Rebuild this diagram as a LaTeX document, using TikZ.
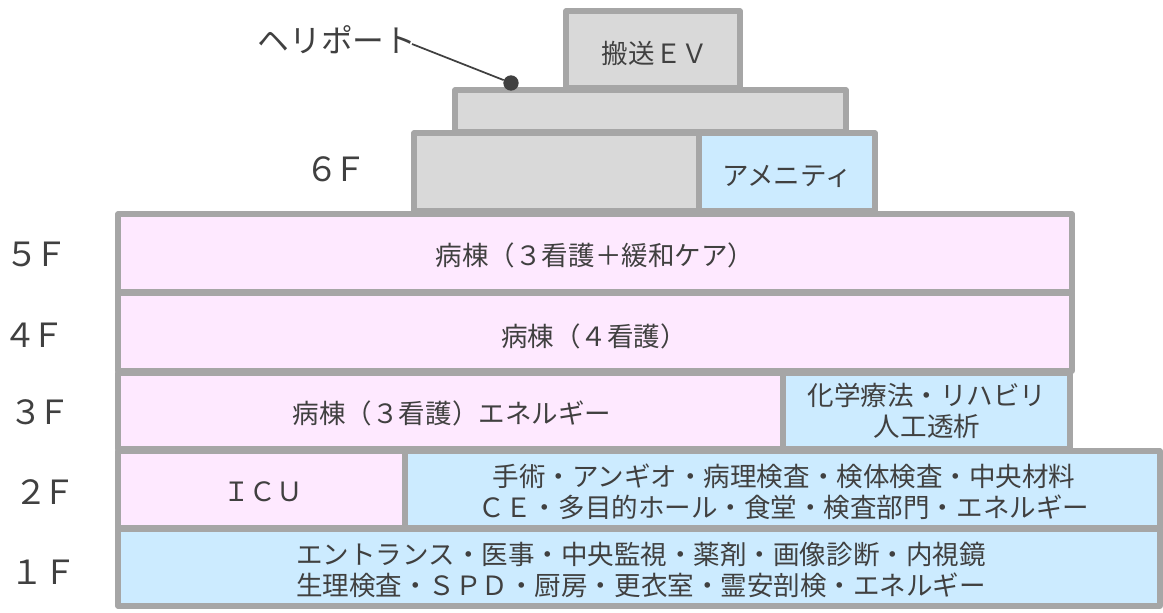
\documentclass[tikz,border=0pt]{standalone}
\usepackage{fontspec}
\setmainfont{Noto Sans CJK JP}
\definecolor{wall}{HTML}{A6A6A6}
\definecolor{grayf}{HTML}{D9D9D9}
\definecolor{pinkf}{HTML}{FEE9FF}
\definecolor{bluef}{HTML}{CCEBFF}
\definecolor{ink}{HTML}{404040}
\newcommand{\fl}[2]{#1\hspace{-3.5pt}#2}
\tikzset{
 room/.style={draw=wall,line width=3.8pt,line join=round},
 rt/.style={text=ink,inner sep=0pt,align=center,font=\fontsize{19.9pt}{23.2pt}\selectfont},
 floorlabel/.style={text=ink,inner sep=0pt,font=\fontsize{25pt}{26pt}\selectfont},
 helilabel/.style={text=ink,inner sep=0pt,font=\fontsize{23.8pt}{26pt}\selectfont},
}
\begin{document}
\begin{tikzpicture}[x=0.75pt,y=-0.75pt]
\useasboundingbox (0,0) rectangle (1163,613);
% upper blocks
\draw[room,fill=grayf] (566,11) rectangle (740,88);
\draw[room,fill=grayf] (455,90) rectangle (846,132);
\draw[room,fill=grayf] (414,133) rectangle (699,211);
\draw[room,fill=bluef] (699,133) rectangle (875,211);
% floors
\draw[room,fill=pinkf] (118,214) rectangle (1072,292);
\draw[room,fill=pinkf] (118,293) rectangle (1072,371);
\draw[room,fill=bluef] (783,373) rectangle (1070,449);
\draw[room,fill=pinkf] (118,373) rectangle (783,449);
\draw[room,fill=pinkf] (118,451) rectangle (405,528);
\draw[room,fill=bluef] (405,451) rectangle (1160,528);
\draw[room,fill=bluef] (118,529) rectangle (1160,606);
% room texts
\node[rt] (ev) at (655,53) {搬送ＥＶ};
\node[rt] (am) at (787,176) {アメニティ};
\node[rt] (f5) at (595,255) {病棟（３看護＋緩和ケア）};
\node[rt] (f4) at (594,336) {病棟（４看護）};
\node[rt] (f3a) at (452,413) {病棟（３看護）エネルギー};
\node[rt] (f3b) at (927,411) {化学療法・リハビリ\\人工透析};
\node[rt] (icu) at (263,492) {ＩＣＵ};
\node[rt] (f2) at (784,492) {手術・アンギオ・病理検査・検体検査・中央材料\\ＣＥ・多目的ホール・食堂・検査部門・エネルギー};
\node[rt] (f1) at (641,570) {エントランス・医事・中央監視・薬剤・画像診断・内視鏡\\生理検査・ＳＰＤ・厨房・更衣室・霊安剖検・エネルギー};
% floor labels
\node[floorlabel] (l6) at (336,169) {\fl{６}{Ｆ}};
\node[floorlabel] (l5) at (37,254) {\fl{５}{Ｆ}};
\node[floorlabel] (l4) at (34,335) {\fl{４}{Ｆ}};
\node[floorlabel] (l3) at (40,412) {\fl{３}{Ｆ}};
\node[floorlabel] (l2) at (45,492) {\fl{２}{Ｆ}};
\node[floorlabel] (l1) at (44,572) {１Ｆ};
% heliport
\node[helilabel] (heli) at (337,40) {ヘリポート};
\node[circle,fill=ink,inner sep=0pt,minimum size=11.5pt] (dot) at (511,83) {};
\coordinate (hs) at (412,44);
\draw[ink,line width=1.3pt] (hs) -- (dot);
\end{tikzpicture}
\end{document}
